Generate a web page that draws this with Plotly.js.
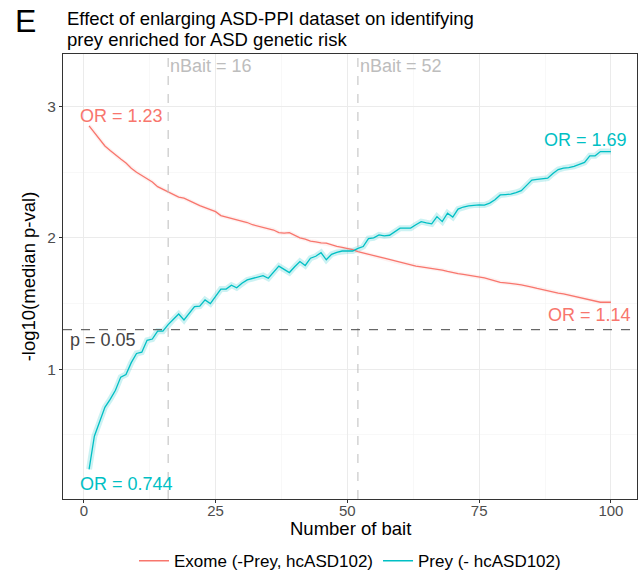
<!DOCTYPE html>
<html>
<head>
<meta charset="utf-8">
<script src="https://cdn.plot.ly/plotly-3.0.1.min.js"></script>
<style>html,body{margin:0;padding:0;background:#fff;}#chart{width:641px;height:575px;}</style>
</head>
<body>
<div id="chart"></div>
<script>
// ---- data ----
const nBait = Array.from({length: 100}, (_, i) => i + 1);
const exomeName = "Exome (-Prey, hcASD102)";
const preyName = "Prey (- hcASD102)";
const exomeVals = [2.853,2.80,2.75,2.70,2.665,2.63,2.60,2.57,2.53,2.50,
  2.475,2.45,2.425,2.39,2.37,2.353,2.33,2.31,2.302,2.28,
  2.264,2.245,2.23,2.215,2.20,2.17,2.16,2.145,2.135,2.125,
  2.117,2.10,2.091,2.08,2.074,2.06,2.04,2.036,2.04,2.02,
  2.00,1.99,1.975,1.97,1.962,1.96,1.945,1.935,1.928,1.92,
  1.91,1.896,1.885,1.872,1.865,1.855,1.845,1.835,1.82,1.81,
  1.805,1.795,1.785,1.78,1.775,1.77,1.765,1.755,1.745,1.735,
  1.728,1.722,1.716,1.71,1.705,1.695,1.685,1.672,1.662,1.658,
  1.655,1.648,1.642,1.635,1.625,1.615,1.605,1.595,1.588,1.58,
  1.574,1.565,1.555,1.545,1.535,1.53,1.52,1.51,1.51,1.51];
const preyVals = [0.238,0.49,0.60,0.71,0.77,0.84,0.94,0.96,1.05,1.12,
  1.13,1.22,1.23,1.29,1.29,1.34,1.38,1.42,1.375,1.43,
  1.477,1.48,1.528,1.50,1.56,1.61,1.61,1.64,1.62,1.655,
  1.68,1.69,1.70,1.713,1.693,1.74,1.785,1.76,1.736,1.78,
  1.82,1.79,1.845,1.86,1.888,1.833,1.875,1.89,1.90,1.90,
  1.90,1.92,1.934,1.995,2.00,2.023,2.015,2.02,2.048,2.074,
  2.074,2.074,2.10,2.124,2.115,2.107,2.162,2.124,2.188,2.158,
  2.219,2.235,2.244,2.25,2.251,2.25,2.265,2.29,2.327,2.33,
  2.333,2.345,2.36,2.40,2.44,2.445,2.45,2.455,2.49,2.52,
  2.531,2.535,2.545,2.56,2.575,2.625,2.625,2.657,2.657,2.657];
const baitMarks = [16, 52];
const baitMarkLabels = ["nBait = 16", "nBait = 52"];
const pThreshold = 0.05;
const orLabels = {exomeStart: "OR = 1.23", exomeEnd: "OR = 1.14", preyStart: "OR = 0.744", preyEnd: "OR = 1.69"};
const xTicks = [0, 25, 50, 75, 100];
const yTicks = [1, 2, 3];
const titleLines = ["Effect of enlarging ASD-PPI dataset on identifying", "prey enriched for ASD genetic risk"];
const xTitle = "Number of bait";
const yTitle = "-log10(median p-val)";

// ---- styles ----
const RED = "#F8766D", CYAN = "#00BFC4";
const FONT = "Liberation Sans, Arial, Helvetica, sans-serif";
const pLine = -Math.log10(pThreshold);

const traces = [
  {x: nBait, y: exomeVals, mode: "lines", line: {color: "rgba(248,118,109,0.10)", width: 4}, showlegend: false, hoverinfo: "skip"},
  {x: nBait, y: preyVals, mode: "lines", line: {color: "rgba(0,191,196,0.20)", width: 6}, showlegend: false, hoverinfo: "skip"},
  {x: nBait, y: exomeVals, mode: "lines", name: exomeName, line: {color: RED, width: 1.3}},
  {x: nBait, y: preyVals, mode: "lines", name: preyName, line: {color: CYAN, width: 1.3}}
];

const shapes = baitMarks.map(b => ({type: "line", xref: "x", yref: "paper", x0: b, x1: b, y0: 0, y1: 1,
  line: {color: "#bdbdbd", width: 1, dash: "dash"}}));
shapes.push({type: "line", xref: "paper", yref: "y", x0: 0, x1: 1, y0: pLine, y1: pLine,
  line: {color: "#444", width: 1, dash: "dash"}});

const annFont = (c) => ({family: FONT, size: 18, color: c});
const annotations = [
  {x: nBait[0], y: exomeVals[0], text: orLabels.exomeStart, showarrow: false, xanchor: "center", yanchor: "bottom", xshift: 32, yshift: -2, font: annFont(RED)},
  {x: nBait[99], y: exomeVals[99], text: orLabels.exomeEnd, showarrow: false, xanchor: "center", yanchor: "top", xshift: -21, yshift: -1, font: annFont(RED)},
  {x: nBait[0], y: preyVals[0], text: orLabels.preyStart, showarrow: false, xanchor: "center", yanchor: "top", xshift: 37, yshift: -3, font: annFont(CYAN)},
  {x: nBait[99], y: preyVals[99], text: orLabels.preyEnd, showarrow: false, xanchor: "center", yanchor: "bottom", xshift: -25, yshift: 0, font: annFont(CYAN)},
  {x: 0, y: pLine, xref: "x", text: "p = " + pThreshold.toFixed(2), showarrow: false, xanchor: "left", yanchor: "top", xshift: -16, yshift: 2, font: annFont("#444")},
  {xref: "paper", yref: "paper", x: -0.066, y: 1.074, text: "E", showarrow: false, xanchor: "center", yanchor: "middle", font: {family: FONT, size: 32, color: "#000"}},
  {xref: "paper", yref: "paper", x: 0.003, y: 1.0787, text: titleLines[0], showarrow: false, xanchor: "left", yanchor: "middle", font: {family: FONT, size: 18.5, color: "#000"}},
  {xref: "paper", yref: "paper", x: 0.003, y: 1.0337, text: titleLines[1], showarrow: false, xanchor: "left", yanchor: "middle", font: {family: FONT, size: 18.5, color: "#000"}},
  {xref: "paper", yref: "paper", x: 0.5, y: -0.066, text: xTitle, showarrow: false, xanchor: "center", yanchor: "middle", font: {family: FONT, size: 18.5, color: "#000"}}
];
baitMarks.forEach((b, i) => annotations.push({x: b, y: 3.31, text: baitMarkLabels[i], showarrow: false, xanchor: "left", yanchor: "middle", xshift: 0, font: annFont("#bdbdbd")}));

const layout = {
  width: 641, height: 575,
  margin: {l: 63, r: 4, t: 54, b: 76, autoexpand: false},
  paper_bgcolor: "#fff", plot_bgcolor: "#fff",
  font: {family: FONT, color: "#000"},
  xaxis: {range: [-3.95, 104.95], tickvals: xTicks, ticks: "outside", ticklen: 3, tickcolor: "#333",
    ticklabelstandoff: -5,
    tickfont: {family: FONT, size: 15, color: "#4d4d4d"},
    showgrid: true, gridcolor: "#ebebeb", gridwidth: 1,
    minor: {dtick: 12.5, tick0: 0, showgrid: true, gridcolor: "#f3f3f3", gridwidth: 0.6},
    zeroline: false, showline: true, mirror: true, linecolor: "#333", linewidth: 1},
  yaxis: {range: [0.012, 3.40], tickvals: yTicks, ticks: "outside", ticklen: 3, tickcolor: "#333",
    tickfont: {family: FONT, size: 15.5, color: "#4d4d4d"},
    showgrid: true, gridcolor: "#ebebeb", gridwidth: 1,
    minor: {dtick: 0.5, tick0: 0, showgrid: true, gridcolor: "#f3f3f3", gridwidth: 0.6},
    zeroline: false, showline: true, mirror: true, linecolor: "#333", linewidth: 1,
    title: {text: yTitle, font: {family: FONT, size: 18.5, color: "#000"}, standoff: 6}},
  legend: {orientation: "h", x: 0.5, xanchor: "center", yref: "container", y: 0.024, yanchor: "middle",
    font: {family: FONT, size: 17, color: "#000"}, itemwidth: 30},
  shapes: shapes,
  annotations: annotations
};

Plotly.newPlot("chart", traces, layout, {displayModeBar: false, staticPlot: true});
</script>
</body>
</html>
